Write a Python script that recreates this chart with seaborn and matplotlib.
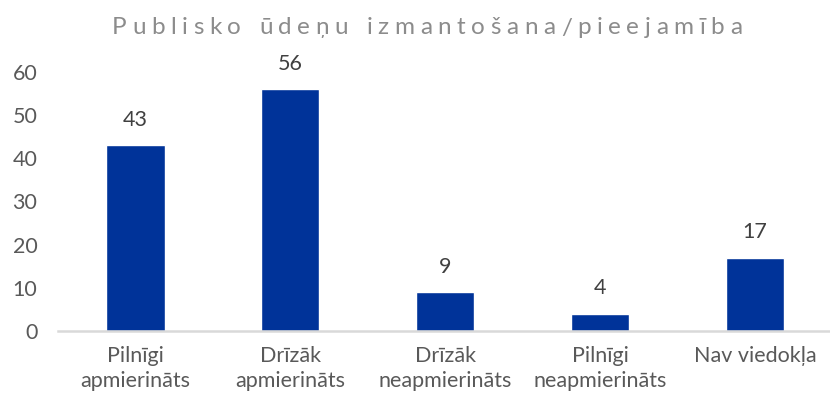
import matplotlib
matplotlib.use("Agg")
import matplotlib.pyplot as plt
import seaborn as sns
import pandas as pd

categories = ["Pilnīgi\napmierināts", "Drīzāk\napmierināts", "Drīzāk\nneapmierināts",
              "Pilnīgi\nneapmierināts", "Nav viedokļa"]
values = [43, 56, 9, 4, 17]
title = "Publisko ūdeņu izmantošana/pieejamība"

sns.set_style("white")
plt.rcParams['font.family'] = ['Lato', 'DejaVu Sans']

df = pd.DataFrame({"cat": categories, "val": values})

fig = plt.figure(figsize=(8.3, 4.04), dpi=100)
ax = fig.add_axes([0.07, 0.181, 0.933, 0.641])
sns.barplot(data=df, x="cat", y="val", color="#003399", width=0.375, saturation=1, ax=ax)

ax.set_ylim(0, 60)
ax.set_xlim(-0.5, 4.5)
ax.set_yticks(range(0, 61, 10))
ax.set_xlabel("")
ax.set_ylabel("")
ax.tick_params(axis="y", length=0, pad=15, labelsize=15.5, labelcolor="#595959")
ax.tick_params(axis="x", length=0, pad=11, labelsize=15.5, labelcolor="#595959")
for lbl in ax.get_xticklabels():
    lbl.set_linespacing(1.3)
for s in ["top", "right", "left"]:
    ax.spines[s].set_visible(False)
ax.spines["bottom"].set_color("#d9d9d9")
ax.spines["bottom"].set_linewidth(1.8)

for c in ax.containers:
    ax.bar_label(c, padding=11, fontsize=15.5, color="#404040")

# title with letter spacing, drawn char by char
renderer = fig.canvas.get_renderer()
x0, x1, ty = 112, 742, 404 - 28
fs = 17.5
widths = []
for ch in title:
    t = fig.text(0, 0, ch if ch != " " else "n", fontsize=fs, color="#808080")
    w = t.get_window_extent(renderer).width
    if ch == " ":
        w = w * 0.5
    widths.append(w)
    t.remove()
gap = (x1 - x0 - sum(widths)) / (len(title) - 1)
x = x0
for ch, w in zip(title, widths):
    if ch != " ":
        fig.text(x / 830, ty / 404, ch, fontsize=fs, color="#8c8c8c", va="center", ha="left")
    x += w + gap

fig.savefig("out.png", dpi=100)
